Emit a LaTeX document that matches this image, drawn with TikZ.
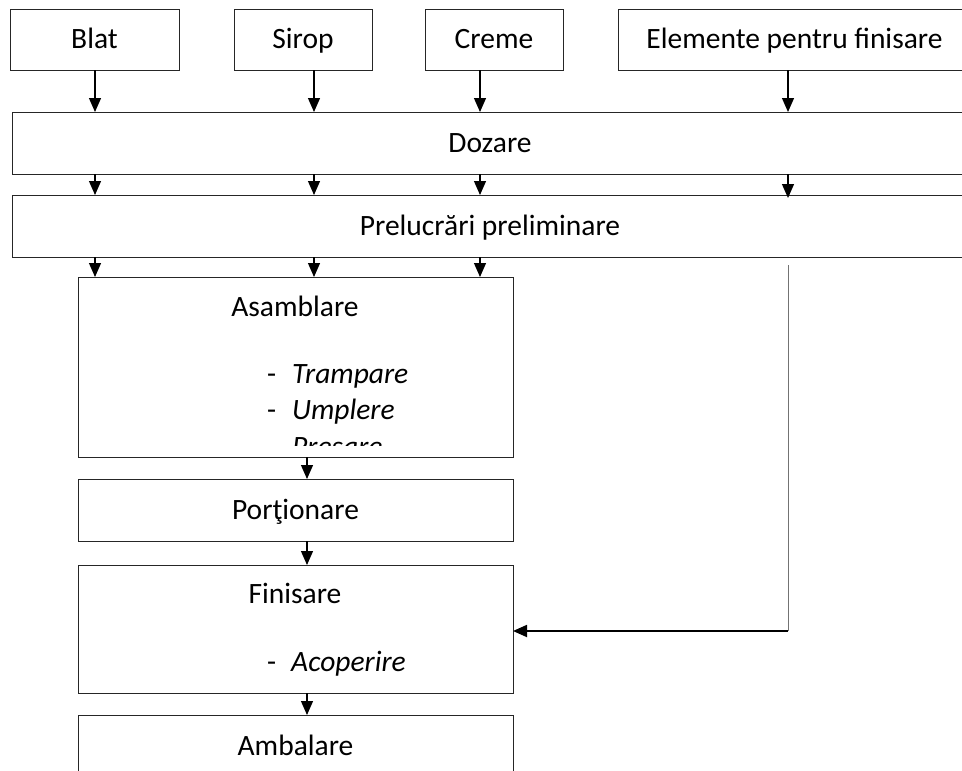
\documentclass[tikz,border=0pt]{standalone}
\usepackage{fontspec}
\setmainfont{Carlito}
\usepackage{tikz}
\usetikzlibrary{arrows.meta}
\usetikzlibrary{positioning}
\tikzset{
    stagebox/.style={
        draw=black!85,
        line width=1pt,
        inner sep=0pt,
        outer sep=0pt,
        text height=18pt,
        text depth=0pt
    },
    % sageata plina pentru fluxul principal
    flowarrow/.style={
        line width=1.2pt,
        black,
        -{Triangle[length=14pt, width=12pt]}
    },
    feedline/.style={
        line width=1pt,
        black!55
    }
}

\begin{document}
\begin{tikzpicture}[x=1pt,y=-1pt,font=\fontsize{29.5}{35}\selectfont]
    \clip (0,0) rectangle (962,771);
    \path
    (95,0) coordinate (c1) (314,0) coordinate (c2)
    (480,0) coordinate (c3) (788,0) coordinate (c4);

    % materiile prime
    \node[stagebox,minimum width=169pt,minimum height=61pt] (blat) at (94.5,39.5) {Blat};
    \node[stagebox,minimum width=138pt,minimum height=61pt] (sirop) at (303,39.5) {Sirop};
    \node[stagebox,minimum width=138pt,minimum height=61pt] (creme) at (494,39.5) {Creme};
    \node[stagebox,minimum width=353pt,minimum height=61pt] (elemente) at (794.5,39.5) {Elemente pentru finisare};

    \node[stagebox,minimum width=956pt,minimum height=62pt] (dozare) at (490,143) {Dozare};
    \node[stagebox,minimum width=956pt,minimum height=62pt] (prelucrari) at (490,226) {Prelucrări preliminare};

    \node[stagebox,minimum width=435pt,minimum height=180pt] (asamblare) at (295.5,367) {};
    \node[stagebox,minimum width=435pt,minimum height=62pt] (portionare) at (295.5,510) {Porţionare};
    \node[stagebox,minimum width=435pt,minimum height=128pt] (finisare) at (295.5,629) {};
    \node[stagebox,minimum width=435pt,minimum height=62pt] (ambalare) at (295.5,746) {Ambalare};

    % textele din casetele mari
    \node[anchor=base,inner sep=0pt] (asamblaretitlu) at (295,316) {Asamblare};
    \node[anchor=base west,inner sep=0pt] (trampare) at (267,383) {\makebox[25pt][l]{-}\textit{Trampare}};
    \node[anchor=base west,inner sep=0pt] (umplere) at (267,419) {\makebox[25pt][l]{-}\textit{Umplere}};
    \begin{scope}
        \clip (asamblare.north west) rectangle (513,445);
        \node[anchor=base west,inner sep=0pt] (presare) at (267,456) {\makebox[25pt][l]{-}\textit{Presare}};
    \end{scope}
    \node[anchor=base,inner sep=0pt] (finisaretitlu) at (295,603) {Finisare};
    \node[anchor=base west,inner sep=0pt] (acoperire) at (267,671) {\makebox[24pt][l]{-}\textit{Acoperire}};

    % sagetile
    \foreach \c/\src in {c1/blat,c2/sirop,c3/creme,c4/elemente}
        \draw[flowarrow] (\src.south -| \c) -- (dozare.north -| \c);
    \foreach \c in {c1,c2,c3}
        \draw[flowarrow] (dozare.south -| \c) -- (prelucrari.north -| \c);
    \draw[flowarrow,shorten >=-3pt] (dozare.south -| c4) -- (prelucrari.north -| c4);
    \foreach \c in {c1,c2,c3}
        \draw[flowarrow] (prelucrari.south -| \c) -- (asamblare.north -| \c);
    \draw[flowarrow] (asamblare.south -| 307,0) -- (portionare.north -| 307,0);
    \draw[flowarrow] (portionare.south -| 307,0) -- (finisare.north -| 307,0);
    \draw[flowarrow] (finisare.south -| 307,0) -- (ambalare.north -| 307,0);

    \coordinate (cot) at (788,631);
    \draw[feedline] ([yshift=-8pt]prelucrari.south -| c4) -- (cot);
    \draw[flowarrow,line width=1.8pt] (cot) -- (finisare.east |- cot);
\end{tikzpicture}
\end{document}
